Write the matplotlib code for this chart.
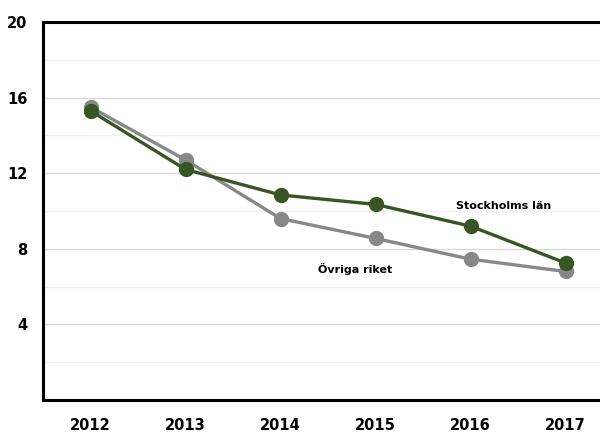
import matplotlib.pyplot as plt
import numpy as np

years = ['2012', '2013', '2014', '2015', '2016', '2017']
ovriga = [15.5, 12.7, 9.6, 8.55, 7.45, 6.8]
stockholm = [15.3, 12.2, 10.85, 10.35, 9.2, 7.25]

plt.rcParams['font.family'] = ['DejaVu Sans']
plt.rcParams['font.weight'] = 'bold'

fig = plt.figure(figsize=(6, 4.32), dpi=100)
# axes runs off the right edge like in the original
ax = fig.add_axes([43 / 600, 32 / 432, 570 / 600, 378 / 432])

x = np.arange(len(years))
ax.plot(x, ovriga, color='#888888', lw=2.4, marker='o', ms=10, zorder=3)
ax.plot(x, stockholm, color='#375623', lw=2.4, marker='o', ms=10, zorder=4)

ax.set_xlim(-0.5, 5.5)
ax.set_ylim(0, 20)
ax.set_xticks(x)
ax.set_xticklabels(years)
ax.set_yticks([4, 8, 12, 16, 20])
ax.set_yticks([2, 6, 10, 14, 18], minor=True)
ax.grid(axis='y', which='major', color='#d9d9d9', lw=1)
ax.grid(axis='y', which='minor', color='#efefef', lw=1)
ax.set_axisbelow(True)

for side in ['left', 'top', 'bottom']:
    ax.spines[side].set_linewidth(2.2)
    ax.spines[side].set_color('black')
ax.spines['right'].set_visible(False)

ax.tick_params(axis='both', which='both', length=0, labelsize=10.5)
ax.tick_params(axis='x', pad=13)
ax.tick_params(axis='y', pad=11)
for lbl in ax.get_xticklabels() + ax.get_yticklabels():
    lbl.set_fontweight('bold')

ax.text(3.85, 10.25, 'Stockholms län', fontsize=8, fontweight='bold', ha='left', va='center')
ax.text(2.4, 6.95, 'Övriga riket', fontsize=8, fontweight='bold', ha='left', va='center')

fig.savefig('out.png', dpi=100)
